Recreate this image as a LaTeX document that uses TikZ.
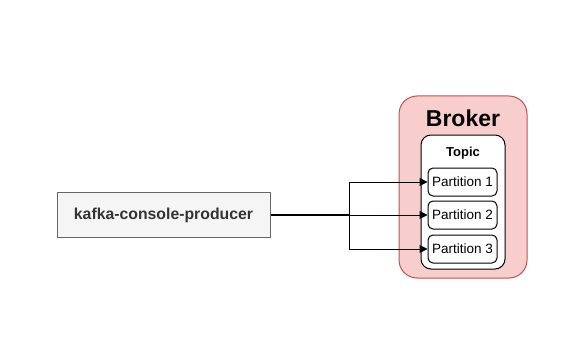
\documentclass[tikz,border=0pt]{standalone}
\usepackage{fontspec}
\setmainfont{Liberation Sans}
\usetikzlibrary{arrows.meta}
\definecolor{brokerfill}{HTML}{F8CECC}
\definecolor{brokerline}{HTML}{B85450}
\definecolor{prodfill}{HTML}{F5F5F5}
\definecolor{prodline}{HTML}{666666}
\definecolor{prodtext}{HTML}{333333}
\begin{document}
\begin{tikzpicture}[x=1pt,y=-1pt,
  brokerbox/.style={draw=brokerline,fill=brokerfill,rounded corners=18pt,line width=1pt},
  topicbox/.style={draw=black,fill=white,rounded corners=10pt,line width=1pt},
  partbox/.style={draw=black,fill=white,rounded corners=5pt,line width=1pt,font=\fontsize{13.5}{15}\selectfont},
  prodbox/.style={draw=prodline,fill=prodfill,line width=1pt,text=prodtext,font=\bfseries\fontsize{15.8}{18}\selectfont},
  conn/.style={draw=black,line width=1pt,-{Triangle[length=8pt,width=8pt]}}]
\useasboundingbox (0,0) rectangle (579,361);
\draw[brokerbox] (399,96) rectangle (527,278);
\node (brokertitle) at (463,118) {\bfseries\fontsize{23}{26}\selectfont Broker};
\draw[topicbox] (421,135) rectangle (505,269);
\node (topictitle) at (463,153) {\bfseries\fontsize{13}{15}\selectfont Topic};
\node[partbox,minimum width=69pt,minimum height=28pt,inner sep=0pt] (p1) at (462.5,182) {Partition 1};
\node[partbox,minimum width=69pt,minimum height=28pt,inner sep=0pt] (p2) at (462.5,215) {Partition 2};
\node[partbox,minimum width=69pt,minimum height=28pt,inner sep=0pt] (p3) at (462.5,249) {Partition 3};
\node[prodbox,minimum width=213pt,minimum height=45pt,inner sep=0pt] (prod) at (163.5,215) {kafka-console-producer};
\coordinate (j) at (349,215);
\draw[line width=1.6pt] (prod.east) -- (j);
\draw[conn] (j) |- (p1.west);
\draw[conn] (j) -- (p2.west);
\draw[conn] (j) |- (p3.west);
\end{tikzpicture}
\end{document}
